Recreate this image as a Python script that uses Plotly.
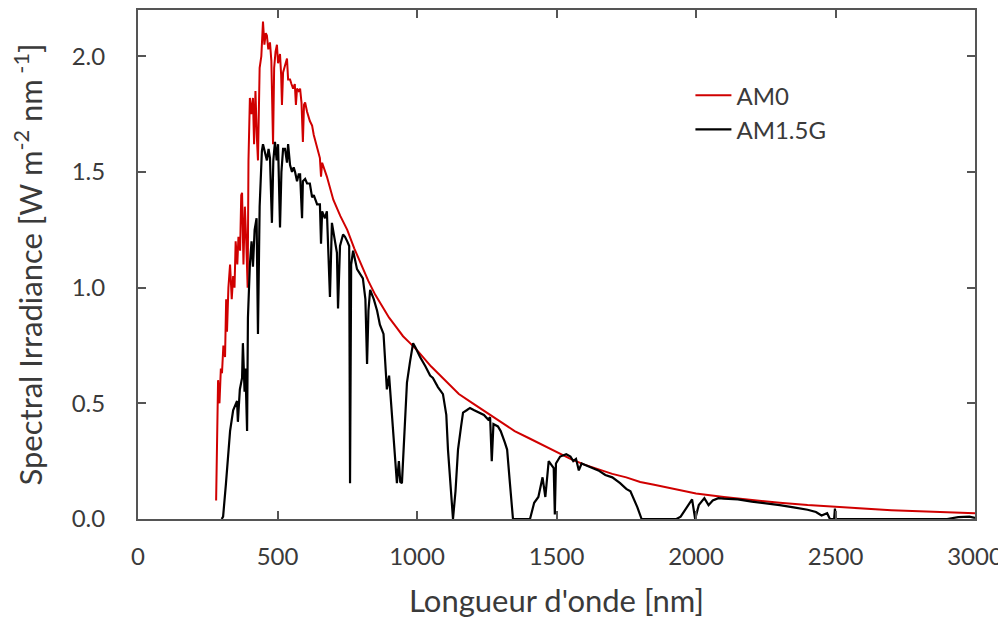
import plotly.graph_objects as go

# AM0 spectrum (wavelength nm, irradiance W m-2 nm-1)
am0_wl = [280, 284, 287, 292, 297, 301, 306, 312, 316, 319, 324, 330, 336, 341, 346, 350,
          356, 360, 366, 370, 373, 378, 383, 388, 393, 396, 401, 406, 412, 416, 421, 426,
          430, 436, 442, 448, 453, 458, 462, 467, 473, 478, 484, 488, 493, 498, 502, 509,
          513, 516, 520, 527, 534, 538, 545, 550, 556, 562, 566, 570, 576, 581, 586, 591,
          595, 599, 606, 616, 624, 630, 642, 652, 656, 660, 677, 688, 700, 725, 750, 775,
          800, 825, 850, 875, 900, 925, 950, 975, 1000, 1050, 1100, 1150, 1200, 1250, 1300,
          1350, 1400, 1450, 1500, 1550, 1600, 1650, 1700, 1750, 1800, 1850, 1900, 1950, 2000,
          2100, 2200, 2300, 2400, 2500, 2600, 2700, 2800, 2900, 3000]
am0_irr = [0.08, 0.40, 0.60, 0.50, 0.65, 0.63, 0.75, 0.70, 0.95, 0.81, 1.00, 1.10, 0.95, 1.05, 1.00, 1.20,
           1.10, 1.22, 1.16, 1.40, 1.41, 1.10, 1.35, 1.20, 1.00, 1.55, 1.82, 1.75, 1.82, 1.62, 1.85, 1.65,
           1.55, 1.95, 2.00, 2.15, 2.05, 2.10, 2.09, 2.03, 2.06, 1.98, 1.62, 1.95, 2.02, 2.05, 1.97, 2.01,
           1.92, 1.79, 1.93, 1.96, 1.99, 1.90, 1.90, 1.88, 1.86, 1.88, 1.79, 1.86, 1.85, 1.86, 1.80, 1.63,
           1.79, 1.80, 1.76, 1.72, 1.70, 1.66, 1.60, 1.56, 1.48, 1.54, 1.48, 1.43, 1.38, 1.31, 1.25, 1.17,
           1.10, 1.03, 0.97, 0.92, 0.87, 0.83, 0.79, 0.76, 0.73, 0.66, 0.60, 0.54, 0.50, 0.46, 0.42,
           0.38, 0.35, 0.32, 0.29, 0.26, 0.235, 0.215, 0.195, 0.18, 0.16, 0.148, 0.135, 0.12, 0.11,
           0.095, 0.082, 0.07, 0.06, 0.052, 0.045, 0.038, 0.033, 0.029, 0.025]

# AM1.5G spectrum
am15_wl = [300, 305, 315, 330, 341, 350, 355, 358, 365, 373, 376, 382, 385, 391, 394, 401,
           407, 412, 418, 425, 430, 436, 444, 448, 455, 462, 468, 473, 480, 485, 491, 497,
           502, 509, 514, 520, 527, 534, 538, 545, 552, 558, 563, 570, 576, 581, 588, 591,
           599, 606, 616, 624, 630, 642, 652, 656, 660, 670, 677, 688, 695, 706, 713, 717,
           724, 735, 742, 750, 757, 760, 764, 771, 785, 806, 815, 821, 826, 832, 845, 857,
           867, 880, 892, 900, 910, 918, 928, 935, 940, 946, 955, 964, 975, 986, 995, 1011,
           1030, 1047, 1057, 1075, 1093, 1105, 1111, 1120, 1129, 1138, 1147, 1158, 1165, 1178,
           1190, 1205, 1226, 1240, 1255, 1262, 1268, 1274, 1290, 1300, 1315, 1323, 1333, 1340,
           1344, 1405, 1420, 1435, 1450, 1460, 1472, 1490, 1494, 1498, 1513, 1535, 1550, 1560,
           1570, 1580, 1590, 1620, 1650, 1675, 1700, 1728, 1750, 1765, 1780, 1790, 1805, 1930,
           1945, 1965, 1986, 1997, 2010, 2030, 2045, 2060, 2080, 2100, 2150, 2200, 2250, 2300,
           2350, 2400, 2430, 2450, 2470, 2480, 2495, 2498, 2502, 2900, 2940, 2980, 3000]
am15_irr = [0.0, 0.01, 0.15, 0.38, 0.47, 0.50, 0.51, 0.42, 0.56, 0.61, 0.76, 0.55, 0.65, 0.38, 0.87, 1.10,
            1.20, 1.09, 1.25, 1.30, 0.80, 1.35, 1.59, 1.62, 1.58, 1.55, 1.60, 1.56, 1.28, 1.55, 1.63, 1.55,
            1.62, 1.26, 1.50, 1.60, 1.60, 1.54, 1.62, 1.53, 1.50, 1.52, 1.50, 1.46, 1.49, 1.49, 1.30, 1.46,
            1.47, 1.45, 1.45, 1.39, 1.40, 1.36, 1.36, 1.19, 1.33, 1.30, 1.33, 0.96, 1.28, 1.20, 1.15, 0.91,
            1.18, 1.23, 1.22, 1.20, 1.18, 0.155, 1.10, 1.16, 1.08, 1.04, 0.95, 0.67, 0.90, 0.99, 0.95, 0.90,
            0.84, 0.80, 0.56, 0.62, 0.45, 0.30, 0.155, 0.25, 0.16, 0.155, 0.40, 0.59, 0.68, 0.76, 0.74, 0.70,
            0.66, 0.62, 0.61, 0.57, 0.54, 0.45, 0.30, 0.15, 0.0, 0.12, 0.30, 0.40, 0.46, 0.47,
            0.48, 0.47, 0.46, 0.45, 0.43, 0.44, 0.25, 0.41, 0.40, 0.38, 0.33, 0.30, 0.155, 0.05,
            0.0, 0.0, 0.07, 0.095, 0.18, 0.095, 0.25, 0.22, 0.02, 0.24, 0.27, 0.28, 0.27, 0.25,
            0.26, 0.21, 0.24, 0.225, 0.21, 0.19, 0.18, 0.155, 0.13, 0.12, 0.08, 0.05, 0.0, 0.0,
            0.01, 0.045, 0.085, 0.0, 0.06, 0.09, 0.06, 0.08, 0.09, 0.088, 0.085, 0.075, 0.068, 0.06,
            0.05, 0.04, 0.03, 0.015, 0.025, 0.0, 0.0, 0.045, 0.0, 0.0, 0.008, 0.01, 0.005]

x_ticks = [0, 500, 1000, 1500, 2000, 2500, 3000]
y_ticks = [0.0, 0.5, 1.0, 1.5, 2.0]
y_labels = ["0.0", "0.5", "1.0", "1.5", "2.0"]

FONT = "Lato, 'Open Sans', sans-serif"
TXT = "#3a3a3a"
AX = "#555555"

fig = go.Figure()
fig.add_trace(go.Scatter(x=am0_wl, y=am0_irr, mode="lines", name="AM0",
                         line=dict(color="#d00000", width=2)))
fig.add_trace(go.Scatter(x=am15_wl, y=am15_irr, mode="lines", name="AM1.5G",
                         line=dict(color="#000000", width=2.2)))

fig.update_layout(
    width=998, height=616,
    margin=dict(l=130, r=31, t=0, b=105),
    paper_bgcolor="white", plot_bgcolor="white",
    font=dict(family=FONT, color=TXT, size=24),
    showlegend=True,
    legend=dict(x=0.66, y=0.876, xanchor="left", yanchor="top",
                bgcolor="rgba(0,0,0,0)", font=dict(size=24, color=TXT),
                tracegroupgap=0, itemwidth=36),
    xaxis=dict(range=[0, 3000], tickvals=x_ticks, showgrid=False, zeroline=False,
               showline=True, linecolor=AX, linewidth=2, mirror="ticks",
               ticks="inside", ticklen=8, tickwidth=1.5, tickcolor=AX,
               ticklabelstandoff=15, tickfont=dict(size=24, color=TXT),
               title=dict(text="Longueur d'onde [nm]", font=dict(size=31, color=TXT), standoff=22)),
    yaxis=dict(range=[0, 2.2], tickvals=y_ticks, ticktext=y_labels, showgrid=False, zeroline=False,
               showline=True, linecolor=AX, linewidth=2, mirror="ticks",
               ticks="inside", ticklen=8, tickwidth=1.5, tickcolor=AX,
               ticklabelstandoff=26, tickfont=dict(size=24, color=TXT),
               title=dict(text="Spectral Irradiance [W m<sup>-2</sup> nm<sup> -1</sup>]",
                          font=dict(size=31, color=TXT), standoff=24)),
)

fig.write_html("out.html")
